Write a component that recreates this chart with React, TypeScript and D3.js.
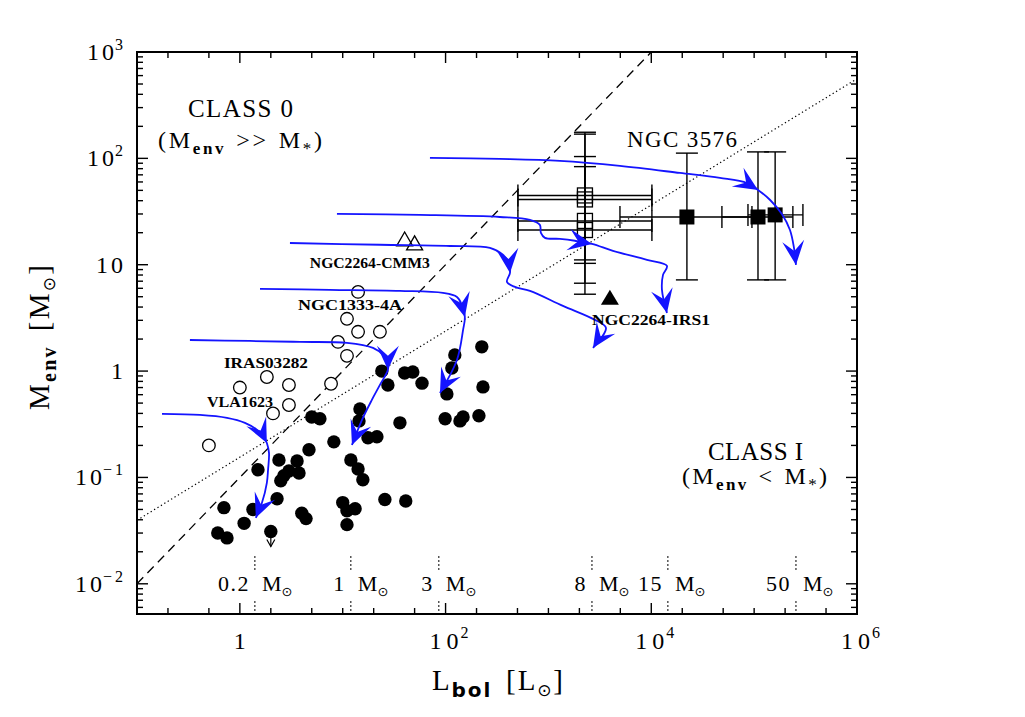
import React from 'react';
import * as d3 from 'd3';

// ---------------- data ----------------
// Class I sources (filled circles): [Lbol, Menv]
const classI: [number, number][] = [
  [5.0, 0.37], [6.0, 0.356], [8.2, 0.216], [4.7, 0.182], [2.4, 0.146], [3.6, 0.143],
  [1.5, 0.118], [3.0, 0.115], [3.76, 0.11], [2.68, 0.104], [2.5, 0.093], [2.3, 0.063],
  [0.7, 0.052], [1.34, 0.05], [4.0, 0.046], [4.4, 0.041], [1.1, 0.037], [0.61, 0.03],
  [0.75, 0.027], [225, 1.69], [123, 1.42], [115, 1.07], [24, 1.0], [40, 0.96], [48, 0.98],
  [27.5, 0.74], [59, 0.77], [231, 0.71], [103, 0.61], [14.7, 0.44], [14.4, 0.34], [36, 0.326],
  [99, 0.356], [138, 0.34], [148, 0.37], [211, 0.38], [17.6, 0.236], [21.5, 0.241],
  [12, 0.146], [14.1, 0.12], [15.7, 0.095], [10, 0.058], [11, 0.0486], [13.2, 0.0507],
  [11, 0.036], [25.7, 0.062], [41, 0.06],
];
// Class I upper limit
const classILimit: [number, number][] = [[2.0, 0.031]];
// Class 0 sources (open circles)
const class0: [number, number][] = [
  [14.1, 5.55], [11, 3.1], [14.1, 2.34], [23, 2.34], [9, 1.88], [11, 1.39], [7.7, 0.76],
  [1.83, 0.88], [3.0, 0.74], [1.0, 0.7], [3.0, 0.48], [2.1, 0.4], [0.5, 0.2],
];
const openTriangles: [number, number][] = [[40, 17.1], [50, 15.7]];
const filledTriangles: [number, number][] = [[3960, 4.9]];

// Open squares with error bars
const openSqL = [2265, 2265, 2265, 2265];
const openSqM = [44.8, 41.1, 25.8, 21.2];
const openSqMlo = [11.1, 10.3, 6.7, 5.28];
const openSqMhi = [176, 169, 104, 83.6];
const openSqLlo = [505, 505, 505, 505];
const openSqLhi = [10140, 10140, 10140, 10140];

// Filled squares (NGC 3576) with error bars
const fillSqL = [22200, 109000, 160000];
const fillSqM = [28.1, 28.1, 29.4];
const fillSqLlo = [4960, 48600, 87100];
const fillSqLhi = [95200, 238000, 298000];
const fillSqMlo = [7.2, 7.2, 7.2];
const fillSqMhi = [112, 115, 115];

// Evolutionary tracks [Lbol, Menv]
const track02: [number, number][] = [
  [0.175, 0.396], [0.409, 0.387], [0.75, 0.363], [1.12, 0.326], [1.47, 0.28], [1.71, 0.241],
  [1.83, 0.211], [1.92, 0.17], [1.88, 0.118], [1.83, 0.089], [1.64, 0.0577], [1.43, 0.0417],
];
const track1: [number, number][] = [
  [0.327, 1.96], [1.25, 1.92], [3.84, 1.88], [11.0, 1.84], [19.7, 1.65], [24.6, 1.42],
  [27.5, 1.19], [27.5, 1.03], [23.0, 0.741], [19.2, 0.536], [15.4, 0.348], [12.3, 0.202],
];
const track3: [number, number][] = [
  [1.57, 5.93], [7.51, 5.8], [36, 5.67], [94.3, 5.43], [129, 4.98], [144, 4.19],
  [154, 3.23], [148, 2.44], [129, 1.27], [88.2, 0.623],
];
const track8: [number, number][] = [
  [3.07, 16.0], [23, 15.4], [110, 15.0], [270, 14.4], [361, 12.4], [413, 10.4], [423, 8.38],
  [395, 6.89], [473, 6.18], [661, 5.67], [1384, 4.1], [2834, 3.03], [3624, 2.55], [2710, 1.65],
];
const track15: [number, number][] = [
  [8.79, 30.0], [56.3, 29.4], [337, 28.1], [661, 26.4], [826, 23.7], [845, 19.9], [925, 17.9],
  [1294, 17.5], [1811, 16.8], [2650, 15.7], [4240, 13.5], [9080, 11.1], [14200, 9.75],
  [13000, 8.02], [12700, 5.8], [14200, 3.52],
];
const track50: [number, number][] = [
  [70.5, 101], [337, 98.7], [1294, 94.6], [4960, 84.9], [19000, 72.9], [46500, 65.5],
  [85100, 58.7], [109000, 50.5], [143000, 40.6], [186000, 30.0], [223000, 21.2],
  [244000, 14.4], [255000, 9.95],
];
const tracks = [track02, track1, track3, track8, track15, track50];
const trackMidArrow = [6, 7, 6, 6, 9, 7];

// Final-mass markers along the bottom
const massLabels = ['0.2', '1', '3', '8', '15', '50'];
const massL = [1.4, 12.0, 86, 2650, 14500, 255000];

// Reference lines Menv = coef * Lbol^exp
const dashedCoef = 0.1, dashedExp = 1.0;
const dottedCoef = 0.155, dottedExp = 0.593;

// Axis tick labels
const xTickVals = [1, 1e2, 1e4, 1e6];
const xTickExp = ['', '2', '4', '6'];
const yTickVals = [1e-2, 1e-1, 1, 10, 1e2, 1e3];
const yTickBase = ['10', '10', '1', '10', '10', '10'];
const yTickExp = ['\u22122', '\u22121', '', '', '2', '3'];

// Source labels
const srcNames = ['NGC2264-CMM3', 'NGC1333-4A', 'IRAS03282', 'VLA1623', 'NGC2264-IRS1'];
const srcL = [4.79, 3.67, 0.70, 0.479, 2650];
const srcM = [9.4, 3.76, 1.07, 0.46, 2.72];
const srcWidth = [120, 104, 84, 66, 118];

// ---------------- layout ----------------
const W = 1025, H = 717;
const X0 = 137, X1 = 857, Y0 = 52, Y1 = 614;
const x = d3.scaleLog().domain([0.1, 1e6]).range([X0, X1]);
const y = d3.scaleLog().domain([0.0052, 1000]).range([Y1, Y0]);

const FONT = "'Liberation Serif', 'DejaVu Serif', serif";
const SYM = "'DejaVu Sans', sans-serif";
const BLUE = '#1414ff';

function arrowHead(p: number[], q: number[]) {
  const dx = q[0] - p[0], dy = q[1] - p[1];
  const len = Math.hypot(dx, dy) || 1;
  const ux = dx / len, uy = dy / len;
  const nx = -uy, ny = ux;
  const L = 24, Wd = 11, N = 14;
  const pts = [
    [q[0], q[1]],
    [q[0] - L * ux + Wd * nx, q[1] - L * uy + Wd * ny],
    [q[0] - N * ux, q[1] - N * uy],
    [q[0] - L * ux - Wd * nx, q[1] - L * uy - Wd * ny],
  ];
  return pts.map(d => d.join(',')).join(' ');
}

export default function App() {
  const line = d3
    .line<[number, number]>()
    .x(d => x(d[0]))
    .y(d => y(d[1]))
    .curve(d3.curveCatmullRom.alpha(0.5));

  // ticks
  const yTicks: { v: number; major: boolean }[] = [];
  for (let d = -3; d <= 2; d++) {
    for (let k = 1; k <= 9; k++) {
      const v = k * Math.pow(10, d);
      if (v >= 0.0052 && v <= 1000) yTicks.push({ v, major: k === 1 });
    }
  }
  yTicks.push({ v: 1000, major: true });
  const xTicks: { v: number; major: boolean }[] = [];
  for (let d = -1; d <= 5; d++) {
    [1, 2, 5].forEach(k => {
      const v = k * Math.pow(10, d);
      if (v > 0.1 && v < 1e6) xTicks.push({ v, major: k === 1 && d % 2 === 0 });
    });
  }

  const dashedEnd = 1000 / dashedCoef;
  const dotted = [0.1, 1e6];

  return (
    <svg width={W} height={H} style={{ position: 'absolute', left: 0, top: 0, background: '#fff' }} fontFamily={FONT}>
      <rect x={0} y={0} width={W} height={H} fill="#fff" />
      {/* reference lines */}
      <line x1={x(0.1)} y1={y(dashedCoef * Math.pow(0.1, dashedExp))} x2={x(dashedEnd)} y2={y(dashedCoef * Math.pow(dashedEnd, dashedExp))}
        stroke="#000" strokeWidth={1.3} strokeDasharray="9,6" />
      <line x1={x(dotted[0])} y1={y(dottedCoef * Math.pow(dotted[0], dottedExp))} x2={x(dotted[1])} y2={y(dottedCoef * Math.pow(dotted[1], dottedExp))}
        stroke="#000" strokeWidth={1.2} strokeDasharray="1.3,2.7" />

      {/* mass markers */}
      {massL.map((L, i) => (
        <g key={'m' + i}>
          <line x1={x(L)} x2={x(L)} y1={556} y2={570} stroke="#000" strokeWidth={1} strokeDasharray="2,2" />
          <line x1={x(L)} x2={x(L)} y1={601} y2={Y1} stroke="#000" strokeWidth={1} strokeDasharray="2,2" />
          <text x={x(L) - 5} y={591} fontSize={22} letterSpacing={1.5} textAnchor="end">{massLabels[i]}</text>
          <text x={x(L) + 7} y={591} fontSize={22}>M<tspan fontFamily={SYM} fontSize={13} dy={5}>{'\u2299'}</tspan></text>
        </g>
      ))}

      {/* error bars: open squares */}
      {openSqL.map((L, i) => (
        <g key={'oe' + i} stroke="#000" strokeWidth={1.4}>
          <line x1={x(openSqLlo[i])} x2={x(openSqLhi[i])} y1={y(openSqM[i])} y2={y(openSqM[i])} />
          <line x1={x(openSqLlo[i])} x2={x(openSqLlo[i])} y1={y(openSqM[i]) - 11} y2={y(openSqM[i]) + 11} />
          <line x1={x(openSqLhi[i])} x2={x(openSqLhi[i])} y1={y(openSqM[i]) - 11} y2={y(openSqM[i]) + 11} />
          <line x1={x(L)} x2={x(L)} y1={y(openSqMlo[i])} y2={y(openSqMhi[i])} />
          <line x1={x(L) - 11} x2={x(L) + 11} y1={y(openSqMlo[i])} y2={y(openSqMlo[i])} />
          <line x1={x(L) - 11} x2={x(L) + 11} y1={y(openSqMhi[i])} y2={y(openSqMhi[i])} />
        </g>
      ))}
      {fillSqL.map((L, i) => (
        <g key={'fe' + i} stroke="#000" strokeWidth={1.4}>
          <line x1={x(fillSqLlo[i])} x2={x(fillSqLhi[i])} y1={y(fillSqM[i])} y2={y(fillSqM[i])} />
          <line x1={x(fillSqLlo[i])} x2={x(fillSqLlo[i])} y1={y(fillSqM[i]) - 11} y2={y(fillSqM[i]) + 11} />
          <line x1={x(fillSqLhi[i])} x2={x(fillSqLhi[i])} y1={y(fillSqM[i]) - 11} y2={y(fillSqM[i]) + 11} />
          <line x1={x(L)} x2={x(L)} y1={y(fillSqMlo[i])} y2={y(fillSqMhi[i])} />
          <line x1={x(L) - 11} x2={x(L) + 11} y1={y(fillSqMlo[i])} y2={y(fillSqMlo[i])} />
          <line x1={x(L) - 11} x2={x(L) + 11} y1={y(fillSqMhi[i])} y2={y(fillSqMhi[i])} />
        </g>
      ))}

      {/* data points */}
      {class0.map((d, i) => (
        <circle key={'c0' + i} cx={x(d[0])} cy={y(d[1])} r={6.3} fill="#fff" stroke="#000" strokeWidth={1.3} />
      ))}
      {classI.map((d, i) => (
        <circle key={'c1' + i} cx={x(d[0])} cy={y(d[1])} r={6.7} fill="#000" />
      ))}
      {classILimit.map((d, i) => {
        const cx = x(d[0]), cy = y(d[1]);
        return (
          <g key={'ul' + i}>
            <circle cx={cx} cy={cy} r={6.7} fill="#000" />
            <line x1={cx} x2={cx} y1={cy} y2={cy + 15} stroke="#000" strokeWidth={1.2} />
            <polyline points={`${cx - 4},${cy + 8} ${cx},${cy + 15} ${cx + 4},${cy + 8}`} fill="none" stroke="#000" strokeWidth={1.2} />
          </g>
        );
      })}
      {openTriangles.map((d, i) => {
        const cx = x(d[0]), cy = y(d[1]);
        return <polygon key={'ot' + i} points={`${cx - 8},${cy + 6} ${cx + 8},${cy + 6} ${cx},${cy - 8}`} fill="none" stroke="#000" strokeWidth={1.3} />;
      })}
      {filledTriangles.map((d, i) => {
        const cx = x(d[0]), cy = y(d[1]);
        return <polygon key={'ft' + i} points={`${cx - 9},${cy + 7} ${cx + 9},${cy + 7} ${cx},${cy - 8}`} fill="#000" />;
      })}
      {openSqL.map((L, i) => (
        <rect key={'os' + i} x={x(L) - 7.5} y={y(openSqM[i]) - 7.5} width={15} height={15} fill="none" stroke="#000" strokeWidth={1.3} />
      ))}
      {fillSqL.map((L, i) => (
        <rect key={'fs' + i} x={x(L) - 7.5} y={y(fillSqM[i]) - 7.5} width={15} height={15} fill="#000" />
      ))}

      {/* tracks */}
      {tracks.map((t, i) => {
        const px = t.map(d => [x(d[0]), y(d[1])]);
        const m = trackMidArrow[i];
        const n = px.length - 1;
        return (
          <g key={'tr' + i}>
            <path d={line(t) || ''} fill="none" stroke={BLUE} strokeWidth={1.8} />
            <polygon points={arrowHead(px[m - 1], px[m])} fill={BLUE} />
            <polygon points={arrowHead(px[n - 1], px[n])} fill={BLUE} />
          </g>
        );
      })}

      {/* source labels */}
      {srcNames.map((s, i) => (
        <text key={'sn' + i} x={x(srcL[i])} y={y(srcM[i])} fontSize={15} fontWeight="bold"
          textLength={srcWidth[i]} lengthAdjust="spacingAndGlyphs">{s}</text>
      ))}

      {/* region labels */}
      <text x={188} y={117} fontSize={25} textLength={105}>CLASS 0</text>
      <text x={158} y={148} fontSize={24} textLength={164}>(M<tspan fontSize={17} fontWeight="bold" dy={6}>env</tspan><tspan dy={-6} dx={10}>&gt;&gt;</tspan><tspan dx={10}>M</tspan><tspan fontSize={17} dy={6}>*</tspan><tspan dy={-6}>)</tspan></text>
      <text x={708} y={460} fontSize={25} textLength={95}>CLASS I</text>
      <text x={682} y={484} fontSize={24} textLength={145}>(M<tspan fontSize={17} fontWeight="bold" dy={6}>env</tspan><tspan dy={-6} dx={10}>&lt;</tspan><tspan dx={10}>M</tspan><tspan fontSize={17} dy={6}>*</tspan><tspan dy={-6}>)</tspan></text>
      <text x={627} y={147} fontSize={23} textLength={110}>NGC 3576</text>

      {/* frame + ticks */}
      <rect x={X0} y={Y0} width={X1 - X0} height={Y1 - Y0} fill="none" stroke="#000" strokeWidth={2} />
      {yTicks.map((t, i) => {
        const len = t.major ? 11 : 6;
        const yy = y(t.v);
        return (
          <g key={'yt' + i} stroke="#000" strokeWidth={1.4}>
            <line x1={X0} x2={X0 + len} y1={yy} y2={yy} />
            <line x1={X1} x2={X1 - len} y1={yy} y2={yy} />
          </g>
        );
      })}
      {xTicks.map((t, i) => {
        const len = t.major ? 11 : 6;
        const xx = x(t.v);
        return (
          <g key={'xt' + i} stroke="#000" strokeWidth={1.4}>
            <line x1={xx} x2={xx} y1={Y1} y2={Y1 - len} />
            <line x1={xx} x2={xx} y1={Y0} y2={Y0 + len} />
          </g>
        );
      })}

      {/* tick labels */}
      {xTickVals.map((v, i) => (
        <g key={'xl' + i}>
          {xTickExp[i] === '' ? (
            <text x={x(v)} y={649} fontSize={24} textAnchor="middle">1</text>
          ) : (
            <>
              <text x={x(v) - 16} y={649} fontSize={24} textLength={29}>10</text>
              <text x={x(v) + 15} y={638} fontSize={16}>{xTickExp[i]}</text>
            </>
          )}
        </g>
      ))}
      {yTickVals.map((v, i) => (
        <text key={'yl' + i} x={126} y={y(v) + 8} fontSize={24} textAnchor="end" letterSpacing={3}>
          {yTickBase[i]}
          {yTickExp[i] !== '' && <tspan fontSize={16} dy={-10} dx={-2}>{yTickExp[i]}</tspan>}
        </text>
      ))}

      {/* axis titles */}
      <text x={432} y={690} fontSize={29} textLength={131}>L<tspan fontSize={20} fontWeight="bold" fontFamily={SYM} dy={7}>bol</tspan><tspan dy={-7} dx={14}>[L</tspan><tspan fontSize={17} fontFamily={SYM} dy={6}>{'\u2299'}</tspan><tspan dy={-6}>]</tspan></text>
      <text transform="translate(49,410) rotate(-90)" fontSize={29} textLength={145}>M<tspan fontSize={20} fontWeight="bold" dy={7}>env</tspan><tspan dy={-7} dx={14}>[M</tspan><tspan fontSize={17} fontFamily={SYM} dy={6}>{'\u2299'}</tspan><tspan dy={-6}>]</tspan></text>
    </svg>
  );
}
